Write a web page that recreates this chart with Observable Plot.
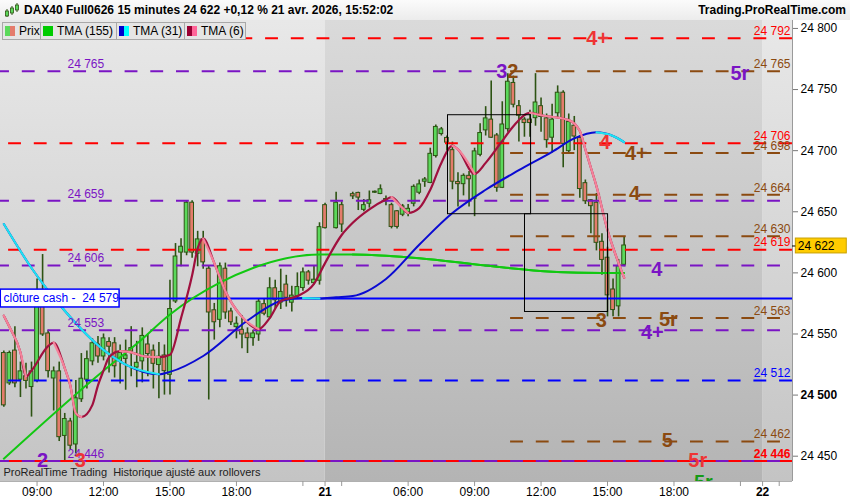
<!DOCTYPE html>
<html>
<head>
<meta charset="utf-8">
<script src="https://cdn.jsdelivr.net/npm/d3@7"></script>
<script src="https://cdn.jsdelivr.net/npm/@observablehq/plot@0.6"></script>
<style>
  body { margin: 0; background: #fff; font-family: "Liberation Sans", Arial, sans-serif; }
  #wrap { position: relative; width: 850px; height: 500px; overflow: hidden; }
  #head { position: absolute; left: 0; top: 0; width: 850px; height: 20px; background: linear-gradient(#fbfbfb, #ececec); font-weight: bold; font-size: 12px; color: #000; }
  #title { position: absolute; left: 24px; top: 3px; white-space: nowrap; }
  #site { position: absolute; right: 4px; top: 3px; white-space: nowrap; }
  #icon { position: absolute; left: 4px; top: 3px; }
  #chart { position: absolute; left: 0; top: 20px; }
  #legend { position: absolute; left: 2px; top: 22px; display: flex; font-size: 12px; color: #000; }
  .cell { box-sizing: border-box; height: 18px; border: 1px solid #a8a8a8; margin-right: -1px; background: #e5e5e5; display: flex; align-items: center; padding-left: 2px; white-space: nowrap; }
  .sw { display: inline-block; width: 5px; height: 10px; }
  .gap { display: inline-block; width: 4px; }
</style>
</head>
<body>
<div id="wrap">
  <div id="head">
    <svg id="icon" width="16" height="15">
      <line x1="3" y1="6" x2="3" y2="14" stroke="#2d5313"/>
      <rect x="1.5" y="8" width="3" height="5" fill="#5bd95b" stroke="#2d5313" stroke-width="0.8"/>
      <line x1="8" y1="3" x2="8" y2="12" stroke="#2d5313"/>
      <rect x="6.5" y="5" width="3" height="5" fill="#5bd95b" stroke="#2d5313" stroke-width="0.8"/>
      <line x1="13" y1="0" x2="13" y2="9" stroke="#2d5313"/>
      <rect x="11.5" y="2" width="3" height="5" fill="#5bd95b" stroke="#2d5313" stroke-width="0.8"/>
    </svg>
    <div id="title">DAX40 Full0626 15 minutes 24 622 +0,12 % 21 avr. 2026, 15:52:02</div>
    <div id="site">Trading.ProRealTime.com</div>
  </div>
  <div id="chart"></div>
  <div id="legend">
    <div class="cell" style="width:39px"><span class="sw" style="background:#5bd95b"></span><span class="sw" style="background:#e47c6c"></span><span class="gap"></span>Prix</div>
    <div class="cell" style="width:77px"><span class="sw" style="width:10px;background:#00cc00"></span><span class="gap"></span>TMA (155)</div>
    <div class="cell" style="width:69px"><span class="sw" style="background:#0000cc"></span><span class="sw" style="background:#00ffff"></span><span class="gap"></span>TMA (31)</div>
    <div class="cell" style="width:62px"><span class="sw" style="background:#990033"></span><span class="sw" style="background:#ff6699"></span><span class="gap"></span>TMA (6)</div>
  </div>
</div>
<script>
// bar index = 15-minute bar counted from the first visible one (20 avr.)
const bars = [
  0, 1, 2, 3, 4, 5, 6, 7, 8, 9, 10, 11, 12, 13, 14, 15, 16, 17, 18, 19,
  20, 21, 22, 23, 24, 25, 26, 27, 28, 29, 30, 31, 32, 33, 34, 35, 36, 37, 38, 39,
  40, 41, 42, 43, 44, 45, 46, 47, 48, 49, 50, 51, 52, 53, 54, 55, 56, 57, 58,
  60, 61,
  63, 64, 65, 66, 67, 68, 69,
  70, 71, 72, 73, 74, 75, 76, 77, 78, 79, 80, 81, 82, 83, 84, 85, 86, 87, 88, 89,
  90, 91, 92, 93, 94, 95, 96, 97, 98, 99, 100, 101, 102, 103, 104, 105, 106, 107, 108, 109,
  110, 111, 112
];
const opens = [
  24534, 24510, 24536, 24513, 24515, 24507, 24512, 24580, 24550, 24514, 24519, 24467, 24478, 24460, 24497, 24513, 24528, 24541, 24532, 24543,
  24542, 24528, 24530, 24538, 24523, 24528, 24541, 24536, 24525, 24532, 24517, 24577, 24617, 24617, 24657, 24616, 24627, 24603, 24569, 24562,
  24603, 24568, 24556, 24553, 24550, 24547, 24550, 24574, 24564, 24587, 24576, 24590, 24576, 24581, 24588, 24600, 24592, 24594, 24655,
  24637, 24655,
  24664, 24665, 24652, 24657, 24666, 24665, 24660,
  24655, 24650, 24648, 24650, 24657, 24666, 24675, 24674, 24696, 24714, 24710, 24700, 24674, 24673, 24679, 24661, 24697, 24717, 24725, 24712,
  24670, 24718, 24755, 24736, 24725, 24725, 24727, 24736, 24726, 24711, 24731, 24747, 24700, 24720, 24710, 24673, 24659, 24657, 24625, 24612,
  24586, 24573, 24607
];
const highs = [
  24536, 24536, 24556, 24527, 24526, 24527, 24595, 24615, 24553, 24523, 24527, 24485, 24481, 24512, 24534, 24536, 24546, 24548, 24550, 24547,
  24547, 24541, 24545, 24556, 24544, 24555, 24550, 24541, 24543, 24541, 24594, 24624, 24628, 24659, 24659, 24634, 24634, 24606, 24575, 24608,
  24608, 24571, 24564, 24565, 24555, 24553, 24579, 24579, 24596, 24594, 24603, 24598, 24589, 24600, 24604, 24602, 24606, 24641, 24657,
  24666, 24658,
  24666, 24666, 24660, 24667, 24667, 24672, 24663,
  24657, 24651, 24656, 24656, 24672, 24676, 24678, 24702, 24721, 24719, 24712, 24707, 24682, 24681, 24683, 24702, 24722, 24736, 24757, 24714,
  24740, 24763, 24761, 24741, 24727, 24733, 24763, 24743, 24730, 24738, 24753, 24749, 24730, 24728, 24712, 24676, 24660, 24665, 24632, 24621,
  24595, 24611, 24629
];
const lows = [
  24490, 24508, 24506, 24498, 24505, 24482, 24510, 24548, 24514, 24487, 24462, 24446, 24455, 24452, 24494, 24505, 24524, 24526, 24528, 24518,
  24514, 24509, 24504, 24515, 24506, 24510, 24515, 24505, 24497, 24500, 24500, 24575, 24605, 24614, 24612, 24605, 24603, 24496, 24545, 24555,
  24562, 24557, 24546, 24538, 24534, 24540, 24544, 24565, 24562, 24570, 24570, 24572, 24568, 24579, 24585, 24590, 24590, 24590, 24636,
  24636, 24633,
  24660, 24651, 24650, 24653, 24665, 24664, 24655,
  24636, 24636, 24646, 24646, 24654, 24664, 24670, 24673, 24694, 24712, 24700, 24668, 24654, 24663, 24654, 24646, 24695, 24712, 24710, 24666,
  24669, 24715, 24735, 24707, 24711, 24711, 24720, 24715, 24702, 24698, 24727, 24686, 24697, 24700, 24661, 24656, 24632, 24618, 24598, 24564,
  24564, 24564, 24605
];
const closes = [
  24492, 24534, 24510, 24519, 24512, 24519, 24580, 24550, 24520, 24519, 24466, 24480, 24459, 24497, 24513, 24529, 24542, 24532, 24546, 24540,
  24524, 24534, 24532, 24536, 24526, 24548, 24534, 24526, 24531, 24520, 24570, 24613, 24621, 24657, 24617, 24627, 24609, 24568, 24560, 24605,
  24568, 24560, 24558, 24550, 24547, 24550, 24576, 24567, 24587, 24578, 24584, 24580, 24581, 24588, 24600, 24594, 24594, 24637, 24637,
  24657, 24640,
  24663, 24662, 24655, 24659, 24666, 24668, 24659,
  24638, 24638, 24654, 24652, 24670, 24672, 24676, 24697, 24719, 24717, 24707, 24675, 24673, 24679, 24677, 24699, 24714, 24726, 24711, 24670,
  24721, 24756, 24738, 24729, 24723, 24723, 24739, 24728, 24709, 24725, 24747, 24706, 24723, 24712, 24669, 24659, 24655, 24625, 24611, 24582,
  24570, 24605, 24622
];

// moving averages, read at some bars
const ma155Bars = [0, 18, 24, 30, 39, 45, 51, 57, 63, 69, 75, 87, 99, 108, 112];
const ma155Vals = [24448, 24520, 24542, 24566, 24592, 24604, 24612, 24615, 24615, 24614, 24612, 24606, 24601, 24600, 24600];
const ma31Bars = [0, 5, 11, 18, 22, 28, 30, 36, 44, 50, 54, 57, 60, 63, 69, 75, 81, 87, 93, 99, 103, 107, 110, 112];
const ma31Vals = [24640, 24604, 24569, 24537, 24525, 24517, 24519, 24532, 24561, 24577, 24579.5, 24579, 24580, 24581, 24595, 24623, 24649, 24668, 24684, 24699, 24710, 24715, 24712, 24707];
const ma6Bars = [0, 1, 3, 4, 5, 8, 9, 11, 12, 13, 14, 16, 17, 18, 19, 21, 23, 25, 28, 30, 32, 34, 35, 36, 38, 40, 43, 46, 48, 50, 53, 56, 58, 61, 63, 66, 69, 70, 72, 73, 75, 77, 79, 81, 82, 85, 87, 90, 92, 95, 97, 102, 104, 105, 106, 107, 109, 111, 112];
const ma6Vals = [24565, 24556, 24535, 24515, 24520, 24540, 24543, 24522, 24508, 24485, 24482, 24492, 24508, 24520, 24531, 24536, 24535, 24532, 24531, 24533, 24563, 24598, 24620, 24628, 24608, 24585, 24564, 24554, 24563, 24577, 24581, 24591, 24608, 24631, 24641, 24652, 24660, 24662, 24653, 24649, 24653, 24668, 24690, 24704, 24701, 24681, 24690, 24708, 24720, 24731, 24729, 24725, 24716, 24701, 24686, 24671, 24635, 24608, 24596];

// horizontal levels
const redLevels = [24792, 24706, 24619];
const purpleLevels = [24765, 24659, 24606, 24553, 24446];
const brownLevels = [24765, 24698, 24664, 24630, 24563, 24462];
const blueLevels = [24512];
const lowLevel = 24446;
const cashClose = 24579;
const brownFrom = 91;
const lastPrice = 24622;

// wave labels on the levels
const annoText = ["4+", "3", "2", "5r", "4", "4+", "4", "4", "5r", "3", "4+", "5", "5r", "5r", "2", "3"];
const annoBar = [107.2, 89.9, 91.9, 132.9, 108.5, 114.2, 113.9, 117.9, 120.0, 107.9, 117.1, 119.8, 125.3, 126.3, 7.0, 13.8];
const annoPrice = [24792, 24765, 24765, 24763, 24707, 24698, 24665, 24603, 24562, 24561, 24551, 24463, 24446, 24428, 24446, 24446];
const annoGroup = ["red", "purple", "brown", "purple", "red", "brown", "brown", "purple", "brown", "brown", "purple", "brown", "red", "green", "purple", "red"];

// boxes
const boxStart = [80.2, 94.1];
const boxEnd = [95.2, 109.1];
const boxTop = [24729, 24648];
const boxBottom = [24648, 24568];

// time axis
const xTickBars = [6, 18, 30, 42, 54, 58, 61, 73, 85, 97, 109, 121, 133, 137, 140];
const xTickText = ["09:00", "12:00", "15:00", "18:00", "", "21", "", "06:00", "09:00", "12:00", "15:00", "18:00", "", "22", ""];
const dayBreaks = [58, 137];

const X0 = -0.6, X1 = 142.4, Y0 = 24429.3, Y1 = 24806.5;
const frameW = 792;
const xpx = (b) => (b - X0) / (X1 - X0) * frameW;
const P = 25.7;
const dashOff = (b, phase) => (((xpx(b) - phase) % P) + P) % P;

const groupColor = { red: "#ff0000", purple: "#7a14c4", brown: "#8b4a10", blue: "#0000ff", green: "#169a16" };
const bigColor = { red: "#ef3434", purple: "#7a14c4", brown: "#8b4a10", green: "#169a16" };
const fmt = (d) => d3.format(",")(d).replace(/,/g, " ");

const candles = bars.map((b, i) => ({ b, o: opens[i], h: highs[i], l: lows[i], c: closes[i] }));
const annos = annoText.map((t, i) => ({ t, b: annoBar[i], p: annoPrice[i], g: annoGroup[i] }));
const boxes = boxStart.map((s, i) => ({ x1: s, x2: boxEnd[i], y1: boxBottom[i], y2: boxTop[i] }));
const tickLabel = new Map(xTickBars.map((b, i) => [b, xTickText[i]]));

function maMarks(bs, vs, upColor, downColor, width) {
  const pts = bs.map((b, i) => ({ b, v: vs[i] }));
  const runs = [];
  for (let i = 1; i < pts.length; i++) {
    if (pts[i].v < pts[i - 1].v) {
      const last = runs[runs.length - 1];
      if (last && last.end === i - 1) { last.pts.push(pts[i]); last.end = i; }
      else runs.push({ pts: [pts[i - 1], pts[i]], end: i });
    }
  }
  const down = runs.flatMap((r, k) => r.pts.map((p) => ({ ...p, k })));
  return [
    Plot.line(pts, { x: "b", y: "v", stroke: upColor, strokeWidth: width, curve: "monotone-x", clip: true }),
    Plot.line(down, { x: "b", y: "v", z: "k", stroke: downColor, strokeWidth: width, curve: "monotone-x", clip: true })
  ];
}

const purpleRows = purpleLevels.map((p) => ({ p, x2: p === 24765 ? brownFrom : X1 }));

const chart = Plot.plot({
  width: 850,
  height: 480,
  marginLeft: 0,
  marginRight: 58,
  marginTop: 0,
  marginBottom: 19,
  x: { domain: [X0, X1] },
  y: { domain: [Y0, Y1] },
  color: { type: "identity" },
  style: { background: "#fff", fontFamily: "'Liberation Sans', Arial, sans-serif", fontSize: "12px", color: "#000" },
  marks: [
    // background: day 20 light, day 21 darker, day 22 light
    Plot.rect([{ a: X0, z: dayBreaks[0] }, { a: dayBreaks[1], z: X1 }], { x1: "a", x2: "z", y1: () => Y0, y2: () => Y1, fill: "url(#bgLight)" }),
    Plot.rect([{ a: dayBreaks[0], z: dayBreaks[1] }], { x1: "a", x2: "z", y1: () => Y0, y2: () => Y1, fill: "url(#bgDark)" }),

    // candles
    Plot.ruleX(candles, { x: "b", y1: "l", y2: "h", stroke: "#2d5313", strokeWidth: 1.6, clip: true }),
    Plot.rect(candles, {
      x1: (d) => d.b - 0.34, x2: (d) => d.b + 0.34, y1: "o", y2: "c",
      fill: (d) => (d.c >= d.o ? "#5bd95b" : "#e47c6c"),
      stroke: "#2d5313", strokeWidth: 1, insetTop: -0.5, insetBottom: -0.5, clip: true
    }),

    // levels
    Plot.ruleY(purpleRows, { y: "p", x1: () => X0, x2: "x2", stroke: groupColor.purple, strokeWidth: 2, strokeDasharray: "12.85 12.85", strokeDashoffset: dashOff(X0, 21.8) }),
    Plot.ruleY(brownLevels, { y: (d) => d, x1: () => brownFrom, x2: () => X1, stroke: groupColor.brown, strokeWidth: 2, strokeDasharray: "12.85 12.85", strokeDashoffset: dashOff(brownFrom, 21.8) }),
    Plot.ruleY(redLevels, { y: (d) => d, x1: () => X0, x2: () => X1, stroke: groupColor.red, strokeWidth: 2, strokeDasharray: "12.85 12.85", strokeDashoffset: dashOff(X0, 8.1) }),
    Plot.ruleY(blueLevels, { y: (d) => d, x1: () => X0, x2: () => X1, stroke: groupColor.blue, strokeWidth: 2, strokeDasharray: "12.85 12.85", strokeDashoffset: dashOff(X0, 8.1) }),
    Plot.ruleY([lowLevel], { y: (d) => d, x1: () => X0, x2: () => X1, stroke: groupColor.red, strokeWidth: 2 }),
    Plot.ruleY([lowLevel], { y: (d) => d, x1: () => X0, x2: () => X1, stroke: groupColor.purple, strokeWidth: 2, strokeDasharray: "12.85 12.85", strokeDashoffset: dashOff(X0, 21.8) }),
    Plot.ruleY([cashClose], { y: (d) => d, x1: () => X0, x2: () => X1, stroke: "#0000ff", strokeWidth: 2 }),

    // moving averages
    ...maMarks(ma155Bars, ma155Vals, "#12c812", "#12c812", 2),
    ...maMarks(ma31Bars, ma31Vals, "#0a0ad2", "#1ee6f0", 2),
    ...maMarks(ma6Bars, ma6Vals, "#a0103e", "#f5829a", 2.2),

    // boxes
    Plot.rect(boxes, { x1: "x1", x2: "x2", y1: "y1", y2: "y2", fill: "none", stroke: "#000", strokeWidth: 1 }),

    // level values
    Plot.text(redLevels, { x: () => X1, y: (d) => d, text: fmt, textAnchor: "end", dx: -2, dy: -7, fill: groupColor.red }),
    Plot.text([lowLevel], { x: () => X1, y: (d) => d, text: fmt, textAnchor: "end", dx: -2, dy: -7, fill: groupColor.red, fontWeight: "bold" }),
    Plot.text(brownLevels, { x: () => X1, y: (d) => d, text: fmt, textAnchor: "end", dx: -2, dy: -7, fill: groupColor.brown }),
    Plot.text(blueLevels, { x: () => X1, y: (d) => d, text: fmt, textAnchor: "end", dx: -2, dy: -7, fill: groupColor.blue }),
    Plot.text(purpleLevels, { x: () => 11.5, y: (d) => d, text: fmt, textAnchor: "start", dy: -7, fill: groupColor.purple }),

    // wave numbers
    Plot.text(annos, { x: "b", y: "p", text: "t", fill: (d) => bigColor[d.g], fontSize: 20, fontWeight: "bold", clip: true }),

    // clôture cash tag
    Plot.rect([cashClose], { x1: () => X0 + 0.05, x2: () => 20.9, y1: (d) => d - 7.3, y2: (d) => d + 7.3, fill: "#fff", stroke: "#0000ff", strokeWidth: 1.5 }),
    Plot.text([cashClose], { x: () => X0, y: (d) => d, dx: 3, text: (d) => `clôture cash -  ${fmt(d)}`, textAnchor: "start", fill: "#0000ff" }),

    // footer note
    Plot.text([0], { frameAnchor: "bottom-left", dx: 3, dy: -6, text: () => "ProRealTime Trading\u00a0 Historique ajusté aux rollovers", textAnchor: "start", fontSize: 11, fill: "#222" }),

    // frame borders
    Plot.ruleX([X1], { stroke: "#9a9a9a", strokeWidth: 1 }),
    Plot.ruleY([Y0], { stroke: "#b0b0b0", strokeWidth: 1 }),

    // axes
    Plot.axisY({ anchor: "right", ticks: d3.range(24450, 24801, 50), tickFormat: fmt, tickSize: 5, tickPadding: 3, label: null, stroke: "#777", fill: "#000" }),
    Plot.axisX({ anchor: "bottom", ticks: xTickBars, tickFormat: (d) => tickLabel.get(d) ?? "", tickSize: 5, tickPadding: 1, label: null, stroke: "#999", fill: "#000" }),

    // last price tag
    Plot.rect([lastPrice], { x1: () => 143.0, x2: () => 152.2, y1: (d) => d - 6.1, y2: (d) => d + 6.1, fill: "#ffcc00", stroke: "#c8a000", strokeWidth: 1 }),
    Plot.ruleY([lastPrice], { x1: () => X1, x2: () => 143.0, stroke: "#000", strokeWidth: 1 }),
    Plot.text([lastPrice], { x: () => 143.0, y: (d) => d, dx: 2, text: fmt, textAnchor: "start", fill: "#000" })
  ]
});

// gradients for the background panels
const defs = d3.select(chart).insert("defs", ":first-child");
const grad = (id, top, bottom) => {
  const g = defs.append("linearGradient").attr("id", id).attr("x1", 0).attr("x2", 0).attr("y1", 0).attr("y2", 1);
  g.append("stop").attr("offset", "0%").attr("stop-color", top);
  g.append("stop").attr("offset", "100%").attr("stop-color", bottom);
};
grad("bgLight", "#e8e8e8", "#c4c4c4");
grad("bgDark", "#dadada", "#b4b4b4");

d3.select(chart).selectAll("text")
  .filter(function () { return ["24 500", "21", "22"].includes(this.textContent); })
  .attr("font-weight", "bold");

document.getElementById("chart").appendChild(chart);
</script>
</body>
</html>
